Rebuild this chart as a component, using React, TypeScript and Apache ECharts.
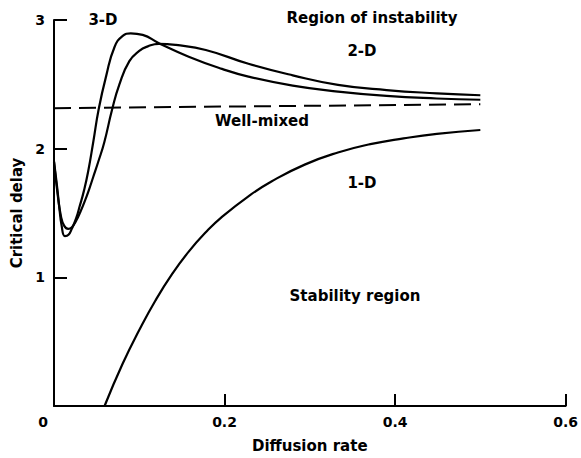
import React, { useEffect, useRef } from 'react';
import * as echarts from 'echarts';

// Tick labels
const xTickValues = [0, 0.2, 0.4, 0.6];
const xTickMarks = [0.2, 0.4, 0.6];
const yTickValues = [1, 2, 3];

// 3-D curve
const x3D = [0, 0.003, 0.006, 0.009, 0.0128, 0.017, 0.021, 0.026, 0.030, 0.035, 0.040, 0.046, 0.0525, 0.061, 0.071, 0.0806, 0.090, 0.104, 0.123, 0.158, 0.197, 0.228, 0.28, 0.333, 0.39, 0.449, 0.5];
const y3D = [1.90, 1.74, 1.56, 1.40, 1.32, 1.33, 1.38, 1.46, 1.55, 1.67, 1.82, 2.05, 2.31, 2.56, 2.79, 2.876, 2.896, 2.884, 2.82, 2.715, 2.62, 2.56, 2.49, 2.444, 2.41, 2.39, 2.38];

// 2-D curve
const x2D = [0, 0.004, 0.008, 0.012, 0.0167, 0.021, 0.026, 0.031, 0.036, 0.041, 0.046, 0.052, 0.059, 0.068, 0.0767, 0.0884, 0.100, 0.110, 0.123, 0.143, 0.178, 0.228, 0.28, 0.333, 0.39, 0.449, 0.5];
const y2D = [1.90, 1.66, 1.48, 1.40, 1.377, 1.39, 1.44, 1.51, 1.59, 1.68, 1.78, 1.90, 2.05, 2.30, 2.50, 2.68, 2.76, 2.795, 2.815, 2.806, 2.767, 2.66, 2.57, 2.496, 2.455, 2.43, 2.415];

// 1-D curve
const x1D = [0.0593, 0.0806, 0.100, 0.119, 0.139, 0.158, 0.178, 0.197, 0.228, 0.255, 0.294, 0.333, 0.371, 0.41, 0.449, 0.5];
const y1D = [0, 0.33, 0.59, 0.82, 1.03, 1.20, 1.35, 1.47, 1.63, 1.745, 1.876, 1.97, 2.035, 2.08, 2.115, 2.145];

// Well-mixed
const xWell = [0, 0.5];
const yWell = [2.315, 2.345];

const zip = (xs: number[], ys: number[]) => xs.map((x, i) => [x, ys[i]]);

const FONT = 'DejaVu Sans';
const FS = 15;

export default function App() {
  const ref = useRef<HTMLDivElement>(null);
  useEffect(() => {
    const chart = echarts.init(ref.current!, null, { renderer: 'svg' });
    const lineBase = {
      type: 'line',
      showSymbol: false,
      symbol: 'none',
      smooth: 0.5,
      lineStyle: { color: '#000', width: 2.2 },
      silent: true,
    };
    const textEl = (text: string, x: number, y: number, rotation = 0) => ({
      type: 'text',
      x,
      y,
      rotation,
      style: {
        text,
        fill: '#000',
        fontFamily: FONT,
        fontSize: FS,
        fontWeight: 'bold',
        align: 'center',
        verticalAlign: 'middle',
        textAlign: 'center',
        textVerticalAlign: 'middle',
      },
    });
    const labelStyle = { color: '#000', fontFamily: FONT, fontSize: 14, fontWeight: 'bold' };
    chart.setOption({
      animation: false,
      backgroundColor: '#fff',
      grid: { left: 54, right: 11, top: 20, bottom: 51, containLabel: false },
      xAxis: {
        type: 'value',
        min: 0,
        max: 0.6,
        interval: 0.2,
        name: 'Diffusion rate',
        nameLocation: 'middle',
        nameGap: 32,
        nameTextStyle: { color: '#000', fontFamily: FONT, fontSize: FS, fontWeight: 'bold' },
        splitLine: { show: false },
        axisLine: { show: true, onZero: false, lineStyle: { color: '#000', width: 2 } },
        axisTick: { show: true, inside: true, length: 12, customValues: xTickMarks, lineStyle: { color: '#000', width: 2 } },
        axisLabel: {
          ...labelStyle,
          customValues: xTickValues,
          margin: 9,
          formatter: (v: number) => (v === 0 ? '{z|0}' : String(v)),
          rich: { z: { ...labelStyle, padding: [0, 22, 0, 0] } },
        },
      },
      yAxis: {
        type: 'value',
        min: 0,
        max: 3,
        interval: 1,
        name: 'Critical delay',
        nameLocation: 'middle',
        nameGap: 30,
        nameRotate: 90,
        nameTextStyle: { color: '#000', fontFamily: FONT, fontSize: FS, fontWeight: 'bold' },
        splitLine: { show: false },
        axisLine: { show: true, onZero: false, lineStyle: { color: '#000', width: 2 } },
        axisTick: { show: true, inside: true, length: 13, customValues: yTickValues, lineStyle: { color: '#000', width: 2 } },
        axisLabel: { ...labelStyle, customValues: yTickValues, margin: 9 },
      },
      graphic: [
        textEl('3-D', 103, 20),
        textEl('Region of instability', 372, 18),
        textEl('2-D', 362, 51),
        textEl('Well-mixed', 262, 121),
        textEl('1-D', 362, 183),
        textEl('Stability region', 355, 296),
      ],
      series: [
        { ...lineBase, name: '3-D', data: zip(x3D, y3D) },
        { ...lineBase, name: '2-D', data: zip(x2D, y2D) },
        { ...lineBase, name: '1-D', data: zip(x1D, y1D) },
        { ...lineBase, name: 'Well-mixed', smooth: false, data: zip(xWell, yWell), lineStyle: { color: '#000', width: 2, type: [17, 8] } },
      ],
    });
    return () => chart.dispose();
  }, []);
  return <div ref={ref} style={{ position: 'fixed', left: 0, top: 0, width: 581, height: 458 }} />;
}
